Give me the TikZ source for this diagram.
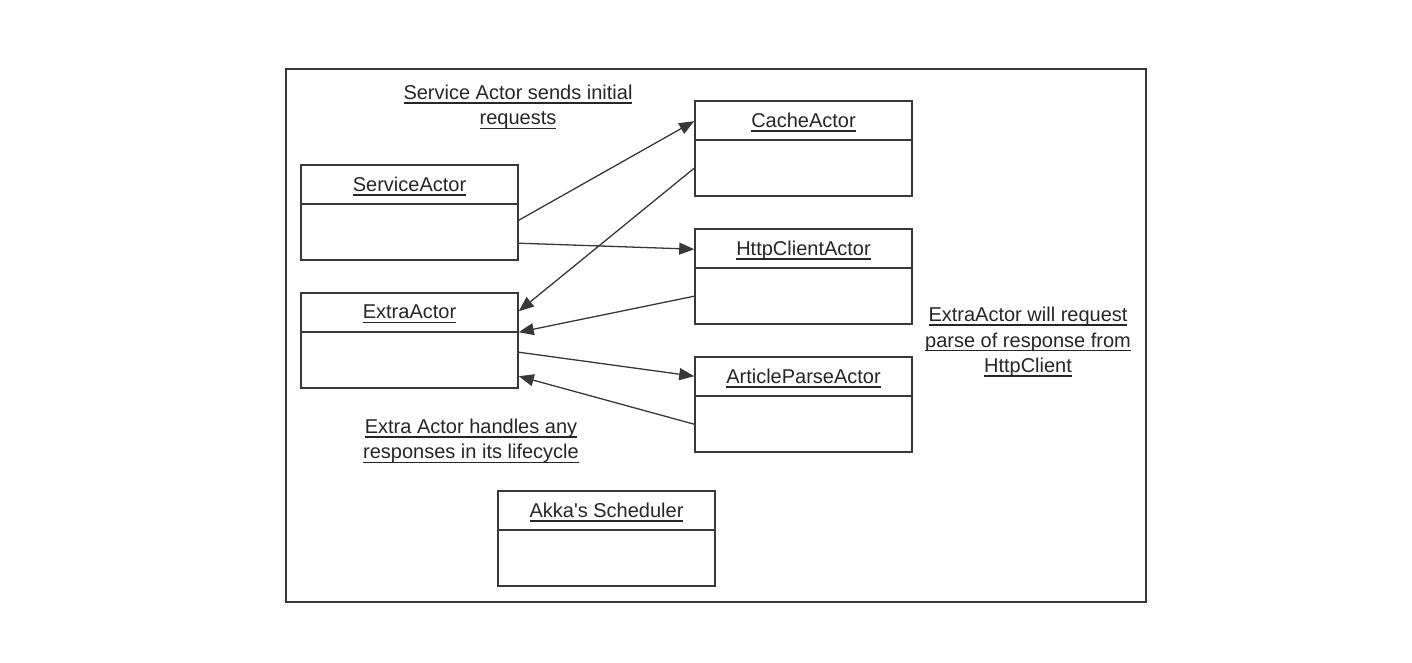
\documentclass[tikz,border=0pt]{standalone}
\usepackage{fontspec}
\setmainfont{Liberation Sans}
\usetikzlibrary{arrows.meta,calc}
\newcommand{\myul}[1]{\setbox0\hbox{#1}\rlap{\vrule height -2.6pt depth 4.2pt width \wd0}\box0}
\begin{document}
\begin{tikzpicture}[x=1pt,y=-1pt,
  line width=1.6pt, draw=black!78, text=black!85,
  every node/.append style={font=\fontsize{20}{25.5}\selectfont},
  umlbox/.style={draw, rectangle, minimum width=217pt, minimum height=95pt, inner sep=0pt},
  boxtitle/.style={inner sep=0pt, anchor=center},
  note/.style={align=center, inner sep=0pt},
  msg/.style={-{Triangle[length=15pt,width=12pt]}, line width=1.3pt}
]
\useasboundingbox (0,0) rectangle (1412,662);
\draw[line width=1.5pt] (286,69) rectangle (1146,602);

% boxes
\node[umlbox] (sa) at (409.5,212.5) {};
\node[umlbox] (ca) at (803.5,148.5) {};
\node[umlbox] (hc) at (803.5,276.5) {};
\node[umlbox] (ea) at (409.5,340.5) {};
\node[umlbox] (ap) at (803.5,404.5) {};
\node[umlbox] (ks) at (606.5,538.5) {};

\foreach \b/\t in {sa/ServiceActor, ca/CacheActor, hc/HttpClientActor, ea/ExtraActor, ap/ArticleParseActor, ks/{Akka\textquotesingle s Scheduler}} {
  \draw[line width=1.6pt] ($(\b.north west)+(0,40)$) -- ($(\b.north east)+(0,40)$);
  \node[boxtitle] (\b-t) at ($(\b.north)+(0,22)$) {\myul{\t}};
}

% notes
\node[note] (n1) at (518,107) {\myul{Service Actor sends initial}\\\myul{requests}};
\node[note] (n2) at (471,441) {\myul{Extra Actor handles any}\\\myul{responses in its lifecycle}};
\node[note] (n3) at (1028,342) {\myul{ExtraActor will request}\\\myul{parse of response from}\\\myul{HttpClient}};

% messages
\draw[msg] ($(sa.north east)+(0,56)$) -- ($(ca.north west)+(0,21)$);
\draw[msg] ($(sa.north east)+(0,79)$) -- ($(hc.north west)+(0,21)$);
\draw[msg] ($(ca.north west)+(0,68)$) -- ($(ea.north east)+(0,19)$);
\draw[msg] ($(hc.north west)+(0,68)$) -- ($(ea.north east)+(0,40)$);
\draw[msg] ($(ea.north east)+(0,60)$) -- ($(ap.north west)+(0,20)$);
\draw[msg] ($(ap.north west)+(0,68)$) -- ($(ea.north east)+(0,84)$);
\end{tikzpicture}
\end{document}
